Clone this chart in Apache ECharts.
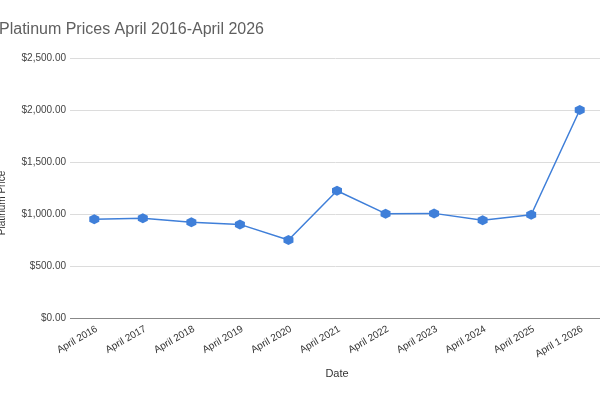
<!DOCTYPE html>
<html><head><meta charset="utf-8">
<script src="https://cdn.jsdelivr.net/npm/echarts@6/dist/echarts.min.js"></script>
<style>html,body{margin:0;padding:0;background:#fff}#c{width:600px;height:400px}</style>
</head><body><div id="c"></div>
<script>
const categories = ['April 2016','April 2017','April 2018','April 2019','April 2020','April 2021','April 2022','April 2023','April 2024','April 2025','April 1 2026'];
const prices = [950, 958, 920, 900, 750, 1224, 1003, 1006, 940, 993, 2000];
const yTicks = [0, 500, 1000, 1500, 2000, 2500];

const hex = 'path://M0.5,0 L0.933,0.25 L0.933,0.75 L0.5,1 L0.067,0.75 L0.067,0.25 Z';
const chart = echarts.init(document.getElementById('c'), null, {renderer:'canvas'});
chart.setOption({
  animation:false,
  textStyle:{fontFamily:'Liberation Sans, Arial, sans-serif'},
  title:{text:'Platinum Prices April 2016-April 2026', left:-1, top:22, padding:0,
    textStyle:{fontSize:16, fontWeight:'normal', color:'#5f5f5f', fontFamily:'Liberation Sans, Arial, sans-serif'}},
  grid:{left:70, right:-4, top:58, bottom:82, containLabel:false, outerBoundsMode:'none'},
  xAxis:{type:'category', data:categories, boundaryGap:true,
    name:'Date', nameLocation:'middle', nameGap:50,
    nameTextStyle:{fontSize:11, color:'#333'},
    axisLine:{show:false}, axisTick:{show:false},
    axisLabel:{rotate:30, fontSize:10, color:'#333', margin:6, interval:0, verticalAlign:'top'}},
  yAxis:{type:'value', min:yTicks[0], max:yTicks[yTicks.length-1], interval:500,
    name:'Platinum Price', nameLocation:'middle', nameGap:63,
    nameTextStyle:{fontSize:10, color:'#333', padding:[0,30,0,0]},
    axisLine:{show:false}, axisTick:{show:false},
    axisLabel:{fontSize:10, color:'#444', margin:4,
      formatter:v=>'$'+v.toLocaleString('en-US',{minimumFractionDigits:2,maximumFractionDigits:2})},
    splitLine:{lineStyle:{color:'#dcdcdc', width:1}}},
  series:[{type:'line', data:prices, symbol:hex, symbolSize:10,
    lineStyle:{color:'#3f7fd9', width:1.5},
    itemStyle:{color:'#3f7fd9'},
    markLine:{silent:true, symbol:'none', label:{show:false},
      lineStyle:{color:'#888', width:1.2, type:'solid'}, data:[{yAxis:0}]}}]
});
</script></body></html>
